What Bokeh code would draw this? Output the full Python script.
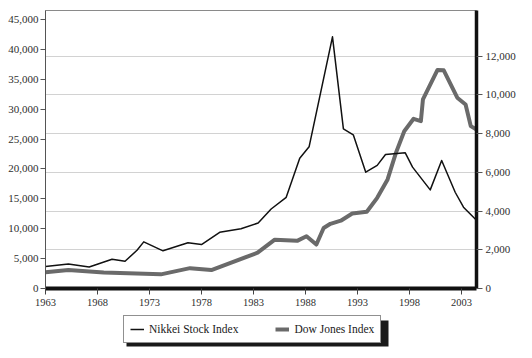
from bokeh.plotting import figure
from bokeh.layouts import column
from bokeh.models import (Range1d, LinearAxis, FixedTicker, NumeralTickFormatter,
                          Grid, Legend, LegendItem, BoxAnnotation)
from bokeh.embed import file_html
from bokeh.resources import INLINE

# ---- data ----
nikkei_years = [1963.0, 1965.2, 1967.2, 1969.4, 1970.65, 1971.8, 1972.45, 1974.3,
                1976.7, 1978.0, 1979.75, 1981.8, 1983.45, 1984.7, 1986.15, 1987.45,
                1988.35, 1990.6, 1991.65, 1992.6, 1993.8, 1994.9, 1995.7, 1997.6,
                1998.3, 2000.0, 2001.1, 2002.4, 2003.2, 2004.45]
nikkei_values = [3700, 4100, 3600, 4900, 4550, 6400, 7800, 6300,
                 7650, 7350, 9400, 10000, 10950, 13300, 15250, 21800,
                 23700, 42100, 26700, 25700, 19450, 20600, 22400, 22700,
                 20300, 16500, 21400, 16100, 13600, 11400]

dow_years = [1963.0, 1965.2, 1968.6, 1974.1, 1976.9, 1978.95, 1983.4, 1985.05,
             1987.2, 1988.1, 1989.05, 1989.75, 1990.4, 1991.4, 1992.5, 1993.9,
             1994.9, 1995.9, 1996.7, 1997.5, 1998.4, 1999.1, 1999.3, 2000.7,
             2001.3, 2002.6, 2003.4, 2003.9, 2004.45]
dow_values = [840, 950, 830, 730, 1050, 950, 1850, 2520,
              2460, 2700, 2270, 3120, 3340, 3500, 3870, 3960,
              4680, 5630, 7000, 8120, 8760, 8640, 9760, 11280,
              11260, 9850, 9500, 8380, 8200]

year_ticks = [1963, 1968, 1973, 1978, 1983, 1988, 1993, 1998, 2003]
nikkei_ticks = [0, 5000, 10000, 15000, 20000, 25000, 30000, 35000, 40000, 45000]
dow_ticks = [0, 2000, 4000, 6000, 8000, 10000, 12000]
series_names = ["Nikkei Stock Index", "Dow Jones Index"]

SERIF = "Liberation Serif, Times New Roman, serif"
LABEL_COLOR = "#2e2e2e"
NK_STYLE = dict(line_color="#111111", line_width=1.5, line_join="round")
DJ_STYLE = dict(line_color="#6a6a6a", line_width=4, line_join="round")

p = figure(width=532, height=310, output_backend="svg", toolbar_location=None,
           x_range=Range1d(1963, 2004.45), y_range=Range1d(0, 46500),
           min_border_left=45, min_border_right=56, min_border_top=10,
           min_border_bottom=22)
p.extra_y_ranges = {"dow": Range1d(0, 14350)}
p.xgrid.visible = False
p.ygrid.visible = False
p.outline_line_color = "#8a8a8a"
p.outline_line_width = 1
p.background_fill_color = "white"
p.border_fill_color = "white"

grid = Grid(dimension=1, ticker=FixedTicker(ticks=dow_ticks[1:]), y_range_name="dow",
            grid_line_color="#d2d2d2", grid_line_width=1)
p.add_layout(grid)

p.line(dow_years, dow_values, y_range_name="dow", **DJ_STYLE)
p.line(nikkei_years, nikkei_values, **NK_STYLE)

# left axis
la = p.left[0]
la.ticker = FixedTicker(ticks=nikkei_ticks)
la.formatter = NumeralTickFormatter(format="0,0")
la.axis_line_color = "#555555"
la.major_tick_line_color = "#555555"
la.major_tick_out = 5
la.major_tick_in = 0
la.minor_tick_out = 0
la.minor_tick_in = 0
la.major_label_standoff = 2
la.major_label_text_font = SERIF
la.major_label_text_font_size = "11px"
la.major_label_text_color = LABEL_COLOR

# right axis
ra = LinearAxis(y_range_name="dow", ticker=FixedTicker(ticks=dow_ticks),
                formatter=NumeralTickFormatter(format="0,0"))
ra.axis_line_color = "#111111"
ra.axis_line_width = 3.5
ra.major_tick_line_color = "#555555"
ra.major_tick_out = 6
ra.major_tick_in = 0
ra.minor_tick_out = 0
ra.minor_tick_in = 0
ra.major_label_standoff = 3
ra.major_label_text_font = SERIF
ra.major_label_text_font_size = "11px"
ra.major_label_text_color = LABEL_COLOR
p.add_layout(ra, "right")

# bottom axis
ba = p.below[0]
ba.ticker = FixedTicker(ticks=year_ticks)
ba.formatter = NumeralTickFormatter(format="0")
ba.axis_line_color = "#111111"
ba.axis_line_width = 4
ba.major_tick_line_color = "#444444"
ba.major_tick_out = 6
ba.major_tick_in = 0
ba.minor_tick_out = 0
ba.minor_tick_in = 0
ba.major_label_standoff = 4
ba.major_label_text_font = SERIF
ba.major_label_text_font_size = "10.5px"
ba.major_label_text_color = LABEL_COLOR

# ---- legend strip (separate figure below the chart, units = pixels) ----
q = figure(width=532, height=48, output_backend="svg", toolbar_location=None,
           x_range=Range1d(0, 431), y_range=Range1d(0, 48),
           x_axis_type=None, y_axis_type=None,
           min_border_left=0, min_border_right=0, min_border_top=0,
           min_border_bottom=0)
q.outline_line_color = None
q.xgrid.visible = False
q.ygrid.visible = False
q.background_fill_color = "white"
q.border_fill_color = "white"
# legend keys only: kept outside the strip's visible range
nk_key = q.line([-50, -40], [-50, -40], **NK_STYLE)
dj_key = q.line([-50, -40], [-50, -40], **DJ_STYLE)

# drop shadow of the legend box
q.add_layout(BoxAnnotation(left=81, right=343, bottom=12, top=38,
                           fill_color="#1a1a1a", fill_alpha=1.0,
                           line_color=None))

legend = Legend(items=[LegendItem(label=series_names[0], renderers=[nk_key]),
                       LegendItem(label=series_names[1], renderers=[dj_key])],
                location=(78, 15), orientation="horizontal",
                padding=6, spacing=37, label_standoff=5, glyph_width=14,
                glyph_height=14, label_height=14, margin=0,
                label_text_font=SERIF, label_text_font_size="11.5px",
                label_text_color="#1a1a1a",
                border_line_color="#222222", border_line_width=1,
                background_fill_color="white", background_fill_alpha=1.0)
q.add_layout(legend, "center")

layout = column(p, q, spacing=0)
open("out.html", "w").write(file_html(layout, INLINE))
